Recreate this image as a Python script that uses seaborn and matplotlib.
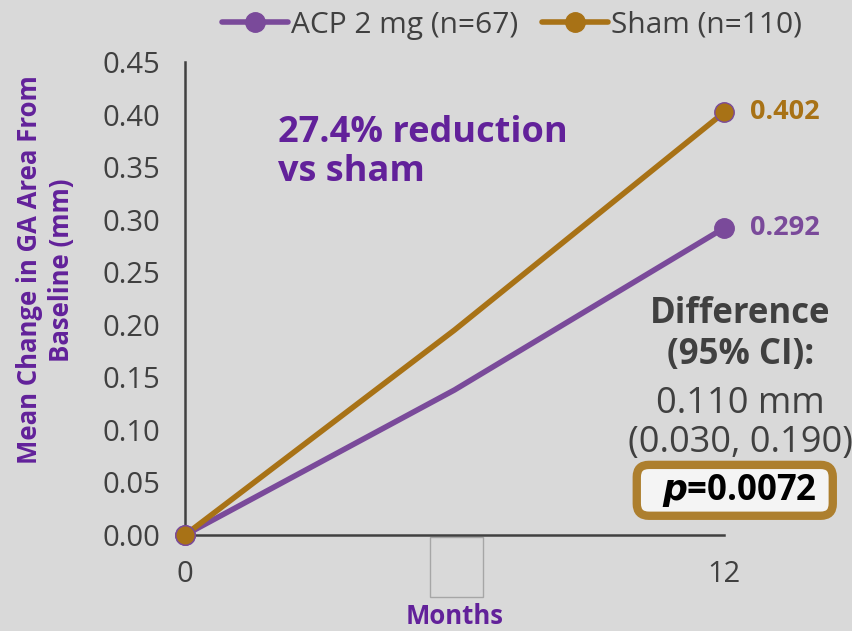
import numpy as np
import pandas as pd
import seaborn as sns
import matplotlib.pyplot as plt
from matplotlib.lines import Line2D
from matplotlib.patches import Rectangle

# data
months = [0, 6, 12]
acp_values = [0.0, 0.138, 0.292]
sham_values = [0.0, 0.195, 0.402]
groups = ['ACP 2 mg (n=67)', 'Sham (n=110)']
y_ticks = [0.00, 0.05, 0.10, 0.15, 0.20, 0.25, 0.30, 0.35, 0.40, 0.45]
x_ticks = [0, 6, 12]
x_tick_labels = ['0', '', '12']
end_labels = ['0.292', '0.402']

# colours
BG = '#d9d9d9'
PURPLE = '#7a4a9a'
GOLD = '#a87216'
TEXT_PURPLE = '#62219a'
DARK = '#404040'

sns.set_style('white')
plt.rcParams['font.family'] = ['Open Sans', 'DejaVu Sans']
plt.rcParams['mathtext.fontset'] = 'custom'
plt.rcParams['mathtext.bfit'] = 'DejaVu Sans:italic:bold'

df = pd.DataFrame({
    'Months': months * 2,
    'Value': acp_values + sham_values,
    'Group': [groups[0]] * len(months) + [groups[1]] * len(months),
})

fig = plt.figure(figsize=(8.53, 6.31), dpi=100, facecolor=BG)
ax = fig.add_axes([185 / 853, 96 / 631, 539 / 853, 473 / 631])
ax.set_facecolor(BG)

sns.lineplot(data=df, x='Months', y='Value', hue='Group',
             palette={groups[0]: PURPLE, groups[1]: GOLD},
             linewidth=4, marker='o', markersize=14, markevery=[0, 2],
             legend=False, ax=ax, clip_on=False, zorder=3)
for line, c in zip(ax.get_lines(), [PURPLE, GOLD]):
    line.set_markeredgecolor(PURPLE)
    line.set_markerfacecolor(c)
    line.set_markeredgewidth(1)

ax.set_xlim(0, 12)
ax.set_ylim(0, 0.45)
ax.set_yticks(y_ticks)
ax.set_yticklabels([f'{v:.2f}' for v in y_ticks])
ax.set_xticks(x_ticks)
ax.set_xticklabels(x_tick_labels)
ax.tick_params(axis='both', colors=DARK, labelsize=21, direction='out',
               length=6, width=1.5, pad=12)
ax.tick_params(axis='x', length=8, pad=10)
for side in ['top', 'right']:
    ax.spines[side].set_visible(False)
for side in ['left', 'bottom']:
    ax.spines[side].set_color(DARK)
    ax.spines[side].set_linewidth(1.8)

ax.set_xlabel('Months', color=TEXT_PURPLE, fontsize=18.5, fontweight='bold',
              va='center')
ax.xaxis.set_label_coords(0.5, -0.172)
ax.set_ylabel('Mean Change in GA Area From\nBaseline (mm)', color=TEXT_PURPLE,
              fontsize=18.5, fontweight='bold', linespacing=1.2)
ax.yaxis.set_label_coords(-0.205, 0.56)

# empty box under the middle tick
ax.add_patch(Rectangle((0.4545, -0.131), 0.098, 0.127, transform=ax.transAxes,
                       facecolor='none', edgecolor='#a6a6a6', lw=1, clip_on=False))

# end-point labels
ax.annotate(end_labels[0], (12, acp_values[-1]), xytext=(26, 0),
            textcoords='offset pixels', color=PURPLE, fontsize=19.5,
            fontweight='bold', va='center', ha='left', annotation_clip=False)
ax.annotate(end_labels[1], (12, sham_values[-1]), xytext=(26, 0),
            textcoords='offset pixels', color=GOLD, fontsize=19.5,
            fontweight='bold', va='center', ha='left', annotation_clip=False)

ax.text(2.07, 0.364, '27.4% reduction\nvs sham', color=TEXT_PURPLE,
        fontsize=26, fontweight='bold', ha='left', va='center', linespacing=1.12)

ax.text(12.36, 0.1908, 'Difference\n(95% CI):', color=DARK, fontsize=25,
        fontweight='bold', ha='center', va='center', linespacing=1.17,
        clip_on=False)
ax.text(12.36, 0.106, '0.110 mm\n(0.030, 0.190)', color=DARK, fontsize=26,
        ha='center', va='center', linespacing=1.12, clip_on=False)
ax.text(12.24, 0.0425, r'  $\mathbfit{p}$=0.0072  ', color='black', fontsize=25,
        fontweight='bold', ha='center', va='center', clip_on=False,
        bbox=dict(boxstyle='round,pad=0.2,rounding_size=0.35',
                  facecolor='#f4f4f4', edgecolor='#ad7f2e', linewidth=6))

handles = [Line2D([], [], color=PURPLE, lw=4, marker='o', markersize=14),
           Line2D([], [], color=GOLD, lw=4, marker='o', markersize=14)]
fig.legend(handles, groups, loc='center', bbox_to_anchor=(512 / 853, 1 - 25 / 631),
           ncol=2, frameon=False, fontsize=21.5, handlelength=2.2,
           handletextpad=0.1, columnspacing=0.8, labelcolor=DARK)

fig.savefig('out.png', dpi=100, facecolor=BG)
